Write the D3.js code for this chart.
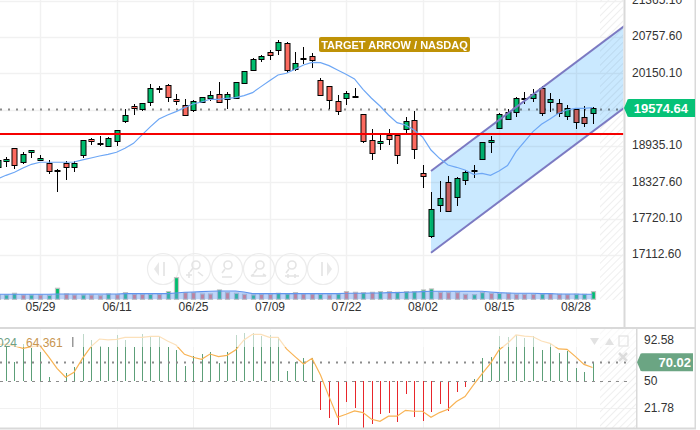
<!DOCTYPE html>
<html>
<head>
<meta charset="utf-8">
<script src="https://cdn.jsdelivr.net/npm/d3@7"></script>
<style>
  html, body { margin: 0; padding: 0; background: #fff; }
  svg { display: block; font-family: "Liberation Sans", Arial, sans-serif; }
</style>
</head>
<body>
<div id="chart"></div>
<script>
// daily candles, first one sits just off the left edge
const opens = [18590,18690,18897,18657,18835,18690,18657,18518,18646,18573,18774,19047,18963,18924,19008,19342,19599,19543,19666,19894,19950,19716,19627,19549,19666,19727,19799,19710,19727,19978,20206,20379,20502,20529,20652,20212,20379,20440,20033,19933,19682,19744,19744,19465,19030,18975,19114,19114,19209,19365,18479,17425,17938,18328,18077,18356,18517,18712,19008,19242,19376,19515,19710,19749,19899,19660,19660,19431,19548,19415,19493];
const highs = [18702,18746,18897,18841,18863,18791,18696,18545,18690,18685,19030,19064,19103,19080,19198,19549,19632,19649,19967,19939,19972,19799,19716,19699,19749,19850,20011,19838,20000,20184,20401,20457,20541,20708,20669,20513,20585,20485,20067,19933,19783,19861,19900,19465,19214,19120,19214,19120,19415,19526,18612,18161,18345,18428,18423,18540,18618,18997,19097,19493,19548,19760,19833,19883,19938,19816,19716,19621,19565,19610,19593];
const lows = [18579,18590,18545,18635,18741,18685,18473,18172,18373,18501,18741,18958,18941,18919,18936,19326,19454,19526,19604,19827,19677,19621,19459,19504,19649,19694,19649,19560,19727,19978,20195,20346,20373,20457,20151,20195,20301,20245,19777,19549,19454,19621,19733,18991,18702,18869,18952,18635,19159,18724,18239,17403,17837,17826,17938,18289,18406,18712,18818,19242,19370,19426,19638,19677,19443,19509,19426,19370,19214,19259,19303];
const closes = [18702,18718,18607,18796,18863,18729,18529,18534,18573,18646,19030,19008,18980,19064,19198,19448,19560,19649,19900,19911,19744,19677,19459,19694,19749,19783,19660,19799,20000,20184,20385,20435,20446,20669,20195,20318,20401,20373,19777,19694,19510,19822,19766,19014,18807,19014,19042,18774,19348,18880,18423,17876,18060,17837,18395,18495,18534,18997,19036,19476,19498,19743,19732,19810,19476,19716,19498,19565,19331,19314,19574.64];
const maLine = [18384,18445,18495,18568,18629,18663,18663,18663,18663,18668,18702,18735,18768,18796,18830,18897,18980,19120,19259,19387,19454,19510,19577,19638,19671,19716,19716,19733,19744,19777,19827,19928,20028,20123,20151,20217,20290,20334,20329,20279,20206,20134,20056,19883,19733,19604,19454,19326,19287,19203,19086,18868,18729,18618,18579,18534,18462,18478,18445,18517,18607,18841,19008,19175,19298,19387,19482,19537,19565,19565,19576];

const volumes = [13,13,18,13,13,13,12,33,16,13,13,13,11,16,14,20,15,15,15,15,23,65,20,20,16,16,28,20,18,15,13,15,15,18,16,20,16,16,15,13,16,23,21,20,21,23,23,21,23,23,28,31,21,20,20,15,14,20,18,18,18,15,15,15,16,17,15,14,15,15,23];
const volUp = [1,1,1,0,1,0,1,1,0,0,1,0,0,1,0,1,0,0,1,0,1,1,0,0,0,0,1,0,1,0,1,0,0,1,1,0,0,0,1,0,1,0,0,1,0,1,0,1,1,1,1,1,0,0,0,0,1,1,0,1,0,0,0,0,1,0,0,0,1,1,1];
const volMa = [15,15,15,15,15,15,15,16,16,16,16,16,16,16,16,17,17,17,17,17,17,19,21,22,23,24,25,25,25,22,17,17,17,17,17,17,17,17,17,17,17,18,18,18,19,19,20,20,21,22,23,24,24,24,24,24,24,24,22,20,19,18,18,18,17,17,16,16,16,15,15];

const oscBars = [70,86.2,70.5,88.6,85.1,80.3,54.2,50.7,58.4,64.6,99.1,93.2,87.2,86.2,98.4,93.2,86.2,99.1,96.6,96.6,86.2,82.7,66,76.8,78.2,81,68.8,80.3,98.4,100,100,97.7,98.4,96.6,60.8,70.5,74,74,19.7,11.4,4.4,28.1,22.5,1.6,5.8,15.5,17.3,7.2,36.4,13.1,8.6,17.6,26,19,39.2,43.7,52.1,74,75.1,97.3,96.6,98.4,95.6,97.3,82.7,89.7,79.2,81.7,64.3,59.4,70.02];
const oscLine = [88.6,88.6,86.9,84.5,86.2,87.2,75.8,63.6,54.2,59.4,74,86.2,94.2,93.2,93.8,95.9,95.9,95.9,97,97,92.1,87.9,78.2,75.1,73,78.5,75.8,77.1,82.7,93.2,99.1,99.1,95.9,95.9,83.8,75.8,68.1,74,56.6,34,12.4,15.5,19,17.3,10.3,8.2,13.5,13.5,19.7,18.7,18.7,12.4,17.3,20.8,28.8,34,46.2,57.7,68.8,82.7,89.7,98.4,97.3,96.6,92.1,89.7,83.8,83.4,75.8,67.7,64.361];

const dateTicks = [5,14,23,32,41,50,59,68];
const dateLabels = ['05/29','06/11','06/25','07/09','07/22','08/02','08/15','08/28'];
const priceTicks = [21365.1,20757.6,20150.1,19542.6,18935.1,18327.6,17720.1,17112.6];
const oscTicks = [92.58,50,21.78];

const lastPrice = 19574.64;
const lastPriceLine = 19553;
const targetLevel = 19135;
const oscLast = 70.02;
// channel anchors: [candle index, price]
const channelTop = [[51,18517],[74,20968]];
const channelBottom = [[51,17151],[74,19602]];

const width = 700, height = 430;
const paneRight = 623.5, oscRight = 636;
const volBase = 299.3;

const svg = d3.select('#chart').append('svg').attr('width', width).attr('height', height);
const defs = svg.append('defs');

const hatch = defs.append('pattern').attr('id', 'hatch').attr('width', 5).attr('height', 5)
  .attr('patternUnits', 'userSpaceOnUse').attr('patternTransform', 'rotate(45)');
hatch.append('rect').attr('width', 1).attr('height', 5).attr('fill', '#efefef');

defs.append('clipPath').attr('id', 'mainClip').append('rect').attr('width', paneRight).attr('height', 327);
defs.append('clipPath').attr('id', 'oscClip').append('rect').attr('y', 329).attr('width', oscRight).attr('height', 99);

const x = d3.scaleLinear().domain([0, 70]).range([-2.5, 592.5]);
const y = d3.scaleLinear().domain([17112.6, 20757.6]).range([255, 37]);
const volY = d3.scaleLinear().domain([0, 65]).range([volBase, volBase - 21.7]);
const oscY = d3.scaleLinear().domain([50, 21.78]).range([381.3, 408.3]);

const px = i => Math.round(x(i));
const candles = opens.map((o, i) => ({ i, o, h: highs[i], l: lows[i], c: closes[i] }));

const GREEN = '#00bd6e', RED = '#fb6a5f', GRID = '#f1f1f1', FRAME = '#d9d9d9';

// grid
const main = svg.append('g').attr('clip-path', 'url(#mainClip)').style('isolation', 'isolate');
main.append('rect').attr('width', paneRight).attr('height', 327).attr('fill', '#fff');
main.append('g').selectAll('line').data(dateTicks).enter().append('line')
  .attr('x1', d => px(d) + 0.5).attr('x2', d => px(d) + 0.5)
  .attr('y1', 0).attr('y2', 300)
  .attr('stroke', GRID).attr('stroke-width', 1.5);
main.append('g').selectAll('line').data(priceTicks).enter().append('line')
  .attr('x1', 0).attr('x2', paneRight)
  .attr('y1', d => Math.round(y(d)) + 0.5).attr('y2', d => Math.round(y(d)) + 0.5)
  .attr('stroke', GRID).attr('stroke-width', 1.5);

// hatched future area
main.append('rect').attr('x', 600).attr('y', 0).attr('width', paneRight - 600).attr('height', 300)
  .attr('fill', 'url(#hatch)');

// toolbar ghost buttons
const toolbarX = [163,195,227,259,291,323];
const toolbar = main.append('g').attr('fill', 'none').attr('stroke', '#ececec').attr('stroke-width', 1.2);
toolbarX.forEach((cx, n) => {
  toolbar.append('circle').attr('cx', cx).attr('cy', 269).attr('r', 15.5);
  const g = toolbar.append('g').attr('transform', 'translate(' + cx + ',269)');
  if (n === 0 || n === 5) {
    const s = n === 0 ? 1 : -1;
    g.append('path').attr('d', 'M' + (s * -4) + ',-7L' + (s * -4) + ',7L' + (s * -9) + ',0Z')
      .attr('fill', '#e8e8e8').attr('stroke', 'none');
    g.append('rect').attr('x', s * 1 - 1).attr('y', -7).attr('width', 2).attr('height', 14)
      .attr('fill', '#e8e8e8').attr('stroke', 'none');
  } else {
    g.append('circle').attr('cx', 1).attr('cy', -4).attr('r', 4).attr('stroke', '#e4e4e4').attr('stroke-width', 1.6);
    g.append('path').attr('d', n === 1 ? 'M-2,-1L-5,3M-9,6H-3M-6,3V9M3,3L8,7' : n === 2 ? 'M-2,0L-5,4M-5,8H5'
      : n === 3 ? 'M-2,0L-5,4M-8,7H7M-8,7L-5,5M7,7L4,5' : 'M-2,0L-5,4M-6,7H8M-3,5V9M4,5V9')
      .attr('stroke', '#e4e4e4').attr('stroke-width', 1.6);
  }
});

// last price dotted line
main.append('line').attr('x1', 0).attr('x2', paneRight)
  .attr('y1', Math.round(y(lastPriceLine)) + 0.5).attr('y2', Math.round(y(lastPriceLine)) + 0.5)
  .attr('stroke', '#8c8c8c').attr('stroke-dasharray', '2,6').attr('stroke-width', 2);

// candles
const candle = main.append('g').selectAll('g').data(candles).enter().append('g');
candle.append('line')
  .attr('x1', d => px(d.i) + 0.5).attr('x2', d => px(d.i) + 0.5)
  .attr('y1', d => y(d.h)).attr('y2', d => y(d.l))
  .attr('stroke', '#000').attr('stroke-width', 1).attr('shape-rendering', 'crispEdges');
candle.append('rect')
  .attr('x', d => px(d.i) - 2)
  .attr('width', 5)
  .attr('y', d => Math.round(y(Math.max(d.o, d.c))) + 0.5)
  .attr('height', d => Math.max(1, Math.round(Math.abs(y(d.o) - y(d.c)))))
  .attr('fill', d => d.c >= d.o ? GREEN : RED)
  .attr('stroke', '#000').attr('stroke-width', 1);

// regression channel, multiplied so the wicks stay black
const chanX = p => x(p[0]), chanY = p => y(p[1]);
const chanPts = [channelTop[0], channelTop[1], channelBottom[1], channelBottom[0]];
main.append('path')
  .attr('d', d3.line().x(chanX).y(chanY)(chanPts) + 'Z')
  .attr('fill', '#cae9ff').style('mix-blend-mode', 'multiply');
[channelTop, channelBottom].forEach(seg => {
  main.append('path').attr('d', d3.line().x(chanX).y(chanY)(seg))
    .attr('fill', 'none').attr('stroke', '#7c7ac2').attr('stroke-width', 2);
});

// moving average
main.append('path').datum(maLine)
  .attr('d', d3.line().x((d, i) => x(i)).y(d => y(d)))
  .attr('fill', 'none').attr('stroke', '#6ea7f5').attr('stroke-width', 1.2);

// target level
main.append('line').attr('x1', 0).attr('x2', paneRight)
  .attr('y1', y(targetLevel)).attr('y2', y(targetLevel))
  .attr('stroke', '#f50000').attr('stroke-width', 2);

// volume
main.append('g').selectAll('rect').data(volumes).enter().append('rect')
  .attr('x', (d, i) => px(i) - 1.5).attr('width', 4)
  .attr('y', d => volY(d)).attr('height', d => volBase - volY(d))
  .attr('fill', (d, i) => volUp[i] ? GREEN : RED)
  .attr('stroke', '#c4c4c4').attr('stroke-width', 1.2);
main.append('path').datum(volMa)
  .attr('d', d3.area().x((d, i) => x(i)).y0(volBase).y1(d => volY(d)))
  .attr('fill', 'rgb(110,160,240)').attr('fill-opacity', 0.45);
main.append('path').datum(volMa)
  .attr('d', d3.line().x((d, i) => x(i)).y(d => volY(d)))
  .attr('fill', 'none').attr('stroke', '#5f94ee').attr('stroke-width', 1.1);

// annotation
main.append('rect').attr('x', 319).attr('y', 37).attr('width', 151).attr('height', 15).attr('rx', 2)
  .attr('fill', '#bf9206');
main.append('text').attr('x', 394.5).attr('y', 48.5).attr('text-anchor', 'middle')
  .attr('font-size', 11).attr('font-weight', 'bold').attr('fill', '#fff').text('TARGET ARROW / NASDAQ');

// axes
const priceAxis = d3.axisRight(y).tickValues(priceTicks).tickSize(0).tickPadding(8)
  .tickFormat(d3.format('.2f'));
const axisY = svg.append('g').attr('transform', 'translate(624,-1)').call(priceAxis);
axisY.select('.domain').remove();
axisY.selectAll('text').attr('font-size', 12).attr('font-family', 'inherit').attr('fill', '#333');

const dateAxis = d3.axisBottom(x).tickValues(dateTicks).tickSize(0).tickPadding(3)
  .tickFormat((d, i) => dateLabels[i]);
const axisX = svg.append('g').attr('transform', 'translate(0,299)').call(dateAxis);
axisX.select('.domain').remove();
axisX.selectAll('text').attr('font-size', 12).attr('font-family', 'inherit').attr('fill', '#333');

// oscillator pane
const osc = svg.append('g').attr('clip-path', 'url(#oscClip)');
osc.append('g').selectAll('line').data(dateTicks).enter().append('line')
  .attr('x1', d => px(d) + 0.5).attr('x2', d => px(d) + 0.5)
  .attr('y1', 329).attr('y2', 428).attr('stroke', GRID);
osc.append('line').attr('x1', 0).attr('x2', oscRight)
  .attr('y1', Math.round(oscY(21.78)) + 0.5).attr('y2', Math.round(oscY(21.78)) + 0.5).attr('stroke', GRID);
osc.append('rect').attr('x', 600).attr('y', 329).attr('width', oscRight - 600).attr('height', 99)
  .attr('fill', 'url(#hatch)');

osc.append('g').selectAll('line').data(oscBars).enter().append('line')
  .attr('x1', (d, i) => px(i) + 0.5).attr('x2', (d, i) => px(i) + 0.5)
  .attr('y1', oscY(50)).attr('y2', d => oscY(d))
  .attr('stroke', d => d >= 50 ? '#5c9f78' : '#e8262b').attr('stroke-width', 1)
  .attr('shape-rendering', 'crispEdges');

osc.append('line').attr('x1', 0).attr('x2', 627)
  .attr('y1', Math.round(oscY(oscLast)) + 0.5).attr('y2', Math.round(oscY(oscLast)) + 0.5)
  .attr('stroke', '#8c8c8c').attr('stroke-dasharray', '2,6').attr('stroke-width', 2);
osc.append('line').attr('x1', 0).attr('x2', 627)
  .attr('y1', Math.round(oscY(50)) + 0.5).attr('y2', Math.round(oscY(50)) + 0.5)
  .attr('stroke', '#8c8c8c').attr('stroke-dasharray', '3,5');

osc.append('path').datum(oscLine)
  .attr('d', d3.line().x((d, i) => x(i)).y(d => oscY(d)))
  .attr('fill', 'none').attr('stroke', '#f8b354').attr('stroke-width', 1.2);

// top of the pane is washed out under the legend strip
osc.append('rect').attr('x', 0).attr('y', 329).attr('width', oscRight).attr('height', 18)
  .attr('fill', '#fff').attr('fill-opacity', 0.6);

svg.append('text').attr('x', 17).attr('y', 346.5).attr('text-anchor', 'end')
  .attr('font-size', 12).attr('fill', '#6f9f85').text('70.024');
svg.append('text').attr('x', 26).attr('y', 346.5)
  .attr('font-size', 12).attr('fill', '#c89650').text('64.361');
svg.append('rect').attr('x', 72).attr('y', 337).attr('width', 1.5).attr('height', 10).attr('fill', '#999');

// ghost icons top right of oscillator
const iconG = svg.append('g').attr('fill', '#e2e2e2');
iconG.append('path').attr('d', 'M590,338H599L594.5,345Z');
iconG.append('path').attr('d', 'M605,345L609.5,338L614,345Z');
iconG.append('rect').attr('x', 619).attr('y', 336).attr('width', 9).attr('height', 10)
  .attr('fill', 'none').attr('stroke', '#e2e2e2').attr('stroke-width', 1.2);
iconG.append('path').attr('d', 'M619,353L627,361M627,353L619,361')
  .attr('stroke', '#dcdcdc').attr('stroke-width', 2.5);

const oscAxis = d3.axisRight(oscY).tickValues(oscTicks).tickSize(0).tickPadding(8)
  .tickFormat(d => d === 50 ? '50' : d3.format('.2f')(d));
const axisO = svg.append('g').attr('transform', 'translate(636,-1)').call(oscAxis);
axisO.select('.domain').remove();
axisO.selectAll('text').attr('font-size', 12).attr('font-family', 'inherit').attr('fill', '#333');

// frames
const frame = svg.append('g').attr('fill', FRAME);
frame.append('rect').attr('x', 623.5).attr('y', 0).attr('width', 2).attr('height', 328);
frame.append('rect').attr('x', 0).attr('y', 327).attr('width', 696).attr('height', 2);
frame.append('rect').attr('x', 636).attr('y', 328).attr('width', 1.5).attr('height', 101);
frame.append('rect').attr('x', 0).attr('y', 427.5).attr('width', 696).attr('height', 2);
frame.append('rect').attr('x', 694.5).attr('y', 0).attr('width', 1.5).attr('height', 429);

// price tags
function tag(left, right, midY, h, color, label, textEnd) {
  svg.append('path')
    .attr('d', 'M' + (left - 3) + ',' + midY + 'L' + left + ',' + (midY - h / 2 + 2)
      + 'Q' + left + ',' + (midY - h / 2) + ' ' + (left + 2) + ',' + (midY - h / 2)
      + 'H' + right + 'V' + (midY + h / 2) + 'H' + (left + 2)
      + 'Q' + left + ',' + (midY + h / 2) + ' ' + left + ',' + (midY + h / 2 - 2) + 'Z')
    .attr('fill', color);
  svg.append('text').attr('x', textEnd).attr('y', midY + 4.5).attr('text-anchor', 'end')
    .attr('font-size', 13).attr('font-weight', 'bold').attr('fill', '#fff').text(label);
}
tag(627, 695, y(lastPrice) + 0.3, 18, '#06c277', d3.format('.2f')(lastPrice), 688);
tag(640, 693, oscY(oscLast), 18, '#6ba583', d3.format('.2f')(oscLast), 691);
</script>
</body>
</html>
